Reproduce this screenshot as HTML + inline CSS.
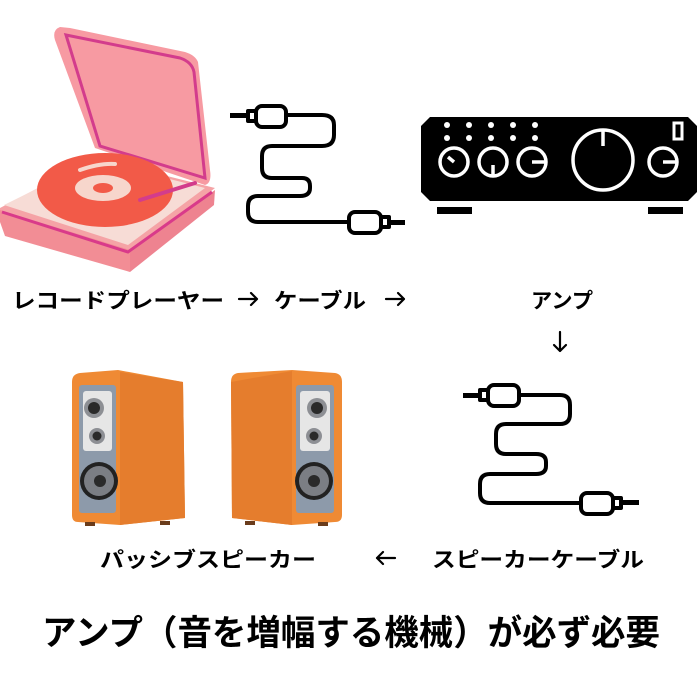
<!DOCTYPE html>
<html><head><meta charset="utf-8"><style>
html,body{margin:0;padding:0;background:#fff;width:700px;height:700px;overflow:hidden}
svg text{font-family:"Liberation Sans","Noto Sans CJK JP",sans-serif;font-weight:bold;fill:#000}
</style></head><body>
<svg width="700" height="700" viewBox="0 0 700 700" xmlns="http://www.w3.org/2000/svg">
<!-- Turntable -->
<g>
  <polygon points="0,208 95,158 215,188 128,255 0,222" fill="#f5a3a6"/>
  <polygon points="0,210 130,250 130,272 5,236 0,222" fill="#f28d95"/>
  <polygon points="130,250 215,190 214,205 130,272" fill="#ee8390"/>
  <polygon points="4,205 95,160 205,188 128,245" fill="#f7dcd6"/>
  <path d="M2,212 L128,252 L212,192" stroke="#d93a8a" stroke-width="3" fill="none"/>
  <path d="M60,27 Q52,30 55,40 L95,148 L205,185 Q212,183 210,170 L198,62 Q195,55 185,52 L70,28 Z" fill="#f79aa2"/>
  <path d="M66,35 L180,58 Q192,62 194,72 L205,178 L100,146 Z" fill="none" stroke="#d33c8c" stroke-width="3"/>
  <ellipse cx="105" cy="190" rx="68" ry="37" fill="#f25a48"/>
  <ellipse cx="103" cy="188" rx="28" ry="13" fill="#f7d6cc"/>
  <ellipse cx="103" cy="188" rx="10" ry="5" fill="#f25a48"/>
  <path d="M80,170 Q100,163 115,164" stroke="#f7d6cc" stroke-width="4" fill="none" stroke-linecap="round"/>
  <path d="M140,200 L195,183" stroke="#d33c8c" stroke-width="4" stroke-linecap="round"/>
</g>
<!-- Cable 1 -->
<g stroke="#000" stroke-width="4" fill="none" stroke-linejoin="round">
  <path d="M288,115 L322,115 Q334,115 334,125 L334,135 Q334,146 322,146 L272,146 Q262,146 262,156 L262,168 Q262,178 272,178 L302,178 Q310,178 310,186 L310,188 Q310,196 300,196 L258,196 Q248,196 248,206 L248,212 Q248,222 258,222 L350,222"/>
  <rect x="256" y="106" width="30" height="21" rx="6"/>
  <rect x="248" y="111" width="8" height="10"/>
  <rect x="349" y="212" width="32" height="21" rx="6"/>
  <rect x="381" y="217" width="8" height="10"/>
</g>
<rect x="230" y="113" width="18" height="5" fill="#000"/>
<rect x="389" y="220" width="16" height="5" fill="#000"/>
<!-- Amp -->
<g>
  <polygon points="430,117 688,117 697,126 697,192 688,201 430,201 421,192 421,126" fill="#000"/>
  <rect x="437" y="207" width="35" height="7" fill="#000"/>
  <rect x="648" y="207" width="35" height="7" fill="#000"/>
  <g fill="#fff">
    <circle cx="447" cy="125" r="3"/><circle cx="469" cy="125" r="3"/><circle cx="491" cy="125" r="3"/><circle cx="513" cy="125" r="3"/><circle cx="535" cy="125" r="3"/>
    <circle cx="447" cy="138" r="3"/><circle cx="469" cy="138" r="3"/><circle cx="491" cy="138" r="3"/><circle cx="513" cy="138" r="3"/><circle cx="535" cy="138" r="3"/>
  </g>
  <g stroke="#fff" stroke-width="3.5" fill="none">
    <circle cx="454" cy="162" r="14"/><path d="M448,157 L454,162"/>
    <circle cx="493" cy="162" r="14"/><path d="M493,165 L493,176"/>
    <circle cx="532" cy="162" r="14"/><path d="M532,162 L545,162"/>
    <circle cx="603" cy="160" r="30"/><path d="M603,131 L603,146"/>
    <circle cx="663" cy="162" r="14"/><path d="M663,162 L676,162"/>
    <rect x="674" y="123" width="8" height="16" stroke-width="3"/>
  </g>
</g>
<!-- Cable 2 -->
<g stroke="#000" stroke-width="4" fill="none" stroke-linejoin="round">
  <path d="M520,395 L560,395 Q570,395 570,405 L570,414 Q570,424 560,424 L506,424 Q496,424 496,434 L496,444 Q496,454 506,454 L536,454 Q546,454 546,462 L546,466 Q546,474 536,474 L490,474 Q480,474 480,484 L480,493 Q480,503 490,503 L582,503"/>
  <rect x="488" y="385" width="31" height="21" rx="6"/>
  <rect x="480" y="390" width="8" height="10"/>
  <rect x="581" y="493" width="32" height="21" rx="6"/>
  <rect x="613" y="498" width="8" height="10"/>
</g>
<rect x="463" y="393" width="17" height="5" fill="#000"/>
<rect x="621" y="500" width="18" height="5" fill="#000"/>
<!-- Speaker left -->
<g>
  <path d="M72,382 Q72,374 80,373 L118,370 L183,382 L185,518 L120,525 L78,522 Q72,522 72,515 Z" fill="#ef8a34"/>
  <polygon points="120,372 183,382 185,518 120,525" fill="#e57d2d"/>
  <rect x="79" y="385" width="37" height="128" rx="3" fill="#8d9aaa"/>
  <rect x="83" y="391" width="29" height="60" rx="3" fill="#e6e6e6"/>
  <circle cx="94" cy="408" r="10" fill="#8d8f94"/><circle cx="94" cy="408" r="6" fill="#2a2a2a"/>
  <circle cx="97" cy="436" r="8" fill="#8d8f94"/><circle cx="97" cy="436" r="4.5" fill="#2a2a2a"/>
  <circle cx="99" cy="481" r="19" fill="#222"/><circle cx="99" cy="481" r="15" fill="#7b7e84"/><circle cx="100" cy="481" r="6" fill="#2a2a2a"/>
  <rect x="85" y="522" width="10" height="4" fill="#6a3c1c"/><rect x="160" y="521" width="10" height="4" fill="#6a3c1c"/>
</g>
<!-- Speaker right -->
<g>
  <path d="M231,382 Q231,374 238,373 L292,370 L335,373 Q342,374 342,382 L342,515 Q342,522 335,522 L292,525 L232,518 Z" fill="#ef8a34"/>
  <polygon points="231,382 292,371 292,525 232,518" fill="#e57d2d"/>
  <rect x="296" y="385" width="38" height="128" rx="3" fill="#8d9aaa"/>
  <rect x="300" y="391" width="30" height="60" rx="3" fill="#e6e6e6"/>
  <circle cx="317" cy="408" r="10" fill="#8d8f94"/><circle cx="317" cy="408" r="6" fill="#2a2a2a"/>
  <circle cx="314" cy="436" r="8" fill="#8d8f94"/><circle cx="314" cy="436" r="4.5" fill="#2a2a2a"/>
  <circle cx="314" cy="481" r="19" fill="#222"/><circle cx="314" cy="481" r="15" fill="#7b7e84"/><circle cx="314" cy="481" r="6" fill="#2a2a2a"/>
  <rect x="245" y="521" width="10" height="4" fill="#6a3c1c"/><rect x="318" y="522" width="10" height="4" fill="#6a3c1c"/>
</g>
<!-- Labels -->
<text x="12" y="308" font-size="21" textLength="212" lengthAdjust="spacingAndGlyphs">レコードプレーヤー</text>
<text x="274" y="308" font-size="21" textLength="92" lengthAdjust="spacingAndGlyphs">ケーブル</text>
<text x="531" y="308" font-size="21" textLength="62" lengthAdjust="spacingAndGlyphs">アンプ</text>
<text x="100" y="567" font-size="21" textLength="216" lengthAdjust="spacingAndGlyphs">パッシブスピーカー</text>
<text x="432" y="567" font-size="21" textLength="212" lengthAdjust="spacingAndGlyphs">スピーカーケーブル</text>
<text x="42" y="645" font-size="35" textLength="618" lengthAdjust="spacingAndGlyphs">アンプ（音を増幅する機械）が必ず必要</text>
<!-- arrows -->
<g stroke="#000" stroke-width="2.2" fill="none" stroke-linecap="round" stroke-linejoin="round">
  <path d="M239,299 L257,299 M251,293 L257,299 L251,305"/>
  <path d="M386,299 L404,299 M398,293 L404,299 L398,305"/>
  <path d="M560,332 L560,351 M554,345 L560,351 L566,345"/>
  <path d="M395,558 L377,558 M383,552 L377,558 L383,564"/>
</g>
</svg>
</body></html>
